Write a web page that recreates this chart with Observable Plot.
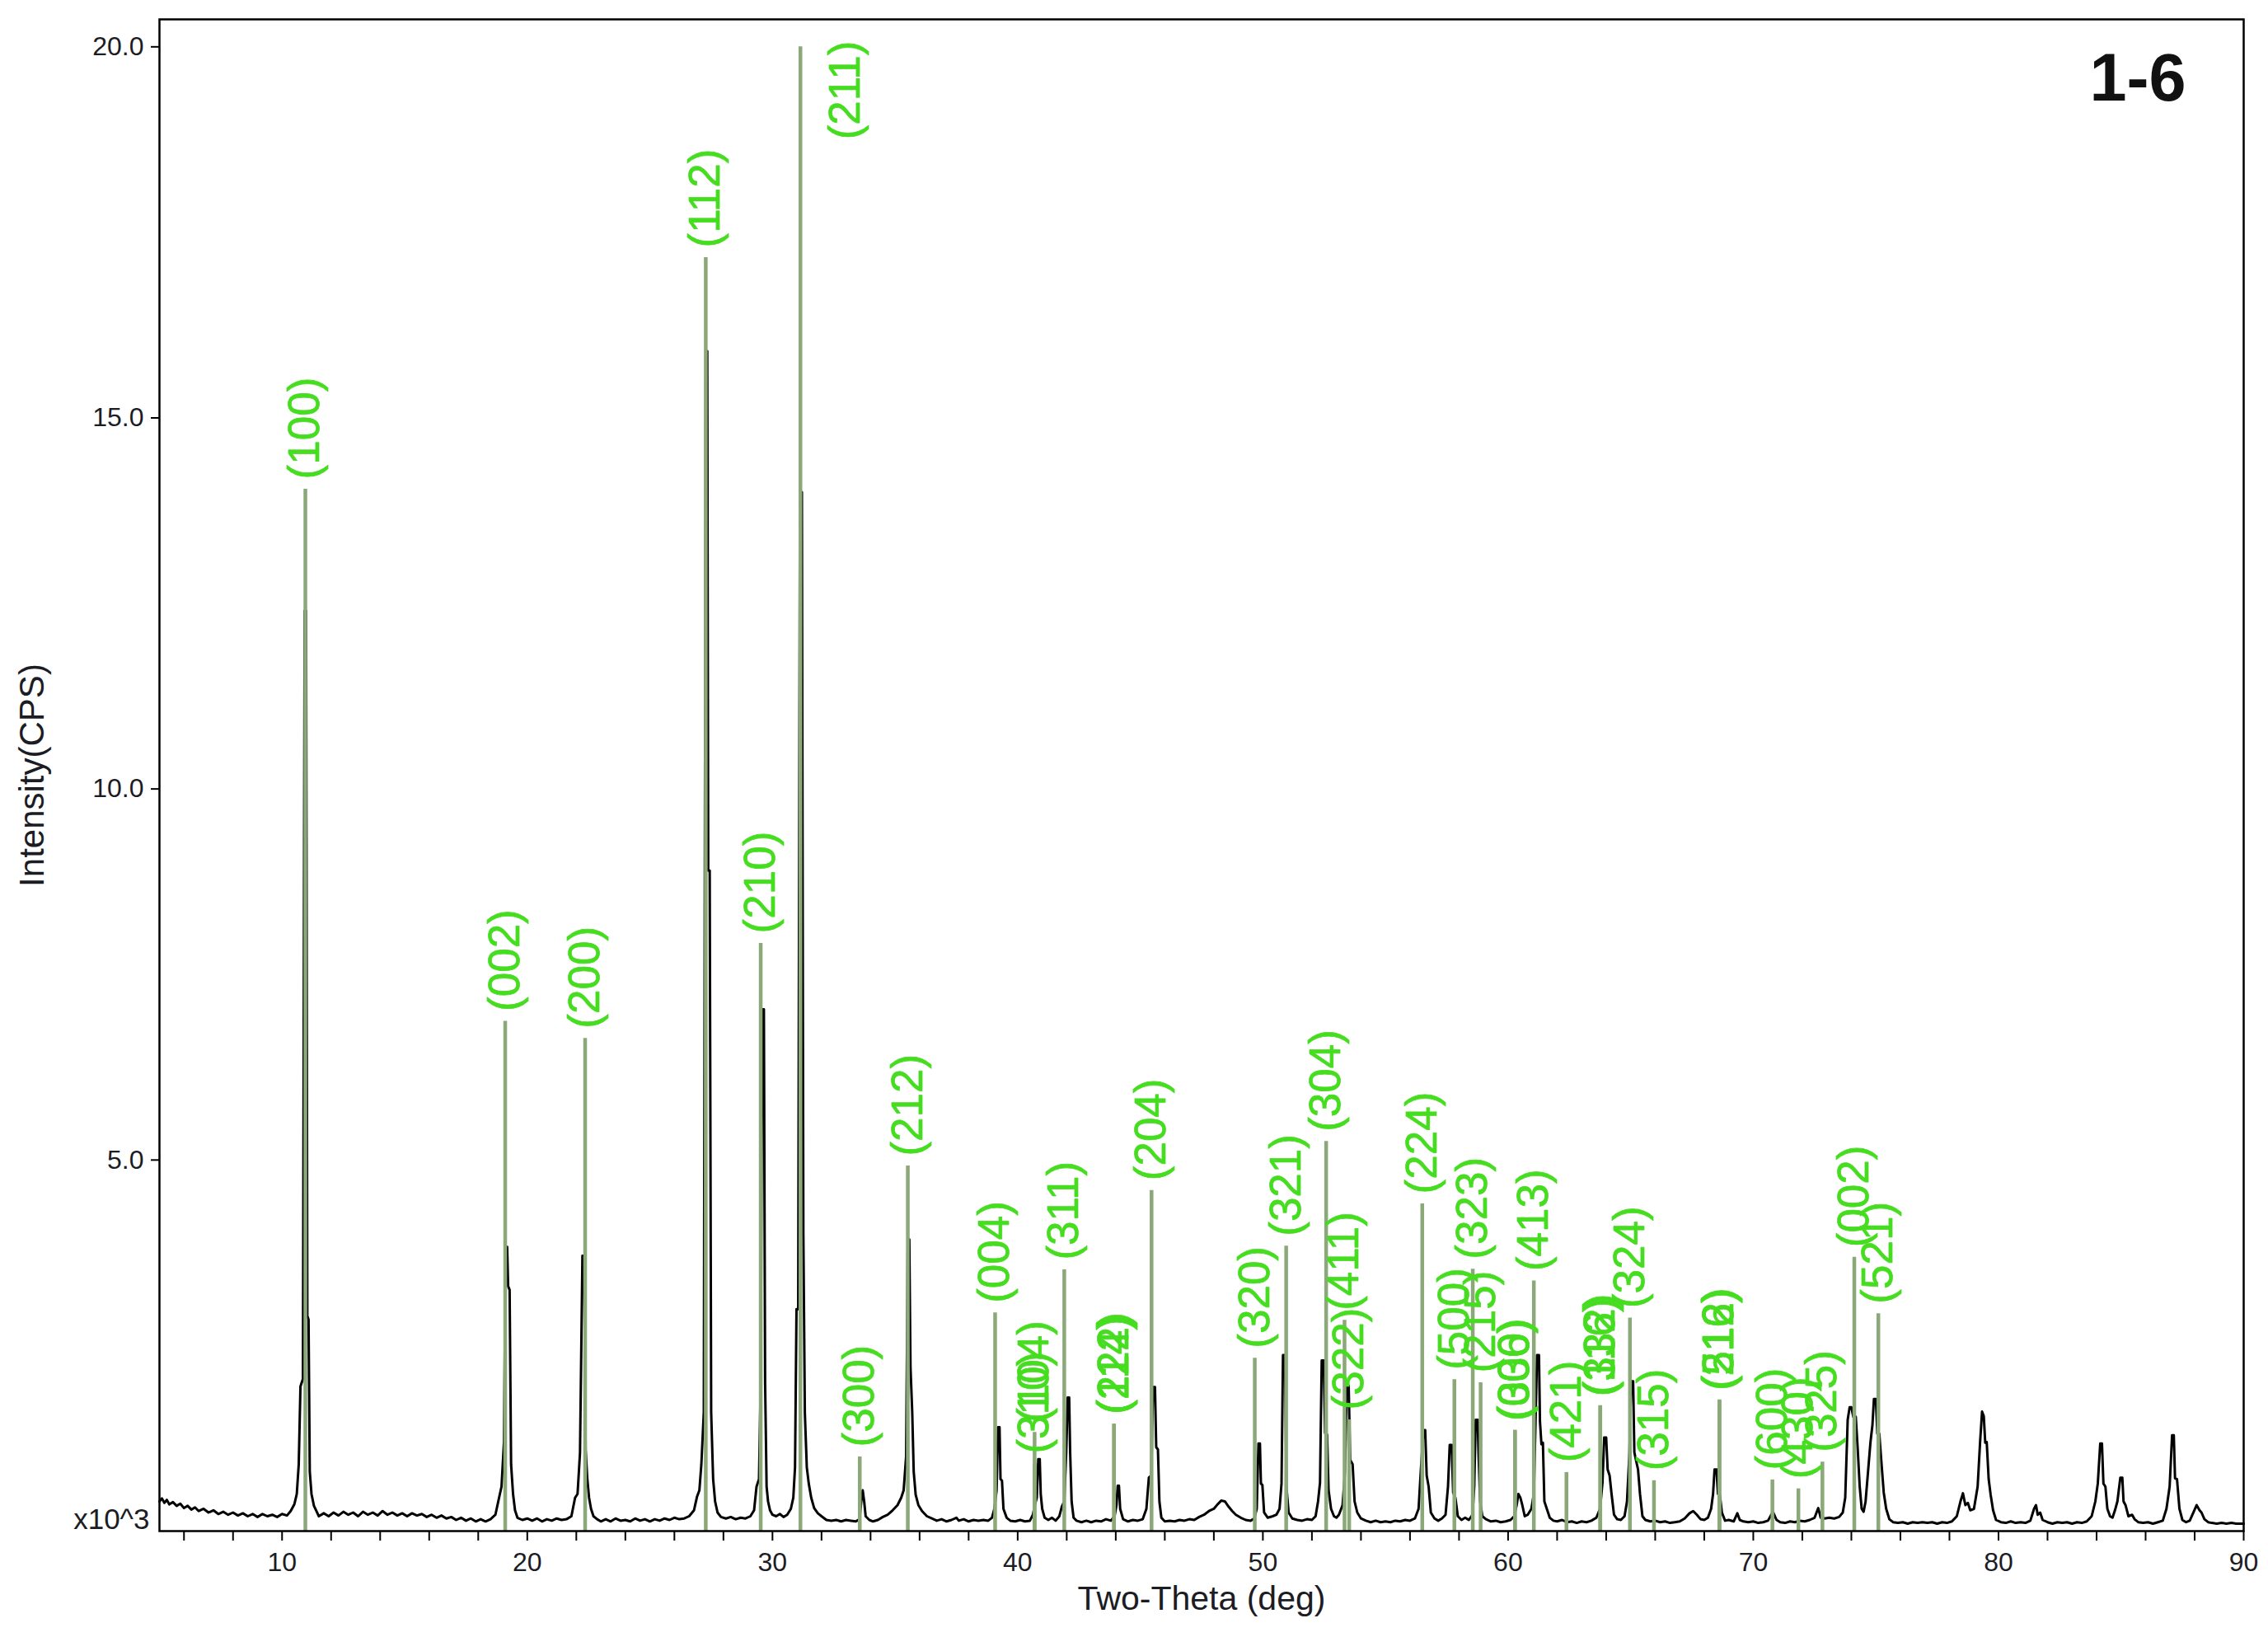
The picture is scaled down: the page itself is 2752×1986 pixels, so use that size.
<!DOCTYPE html>
<html><head><meta charset="utf-8">
<script src="https://cdn.jsdelivr.net/npm/d3@7"></script>
<script src="https://cdn.jsdelivr.net/npm/@observablehq/plot@0.6"></script>
<style>html,body{margin:0;padding:0;background:#fff;} #chart svg{display:block}</style>
</head><body><div id="chart"></div>
<script>
// ---- measured XRD pattern (2θ in degrees, intensity in 10^3 CPS) ----
const twoTheta = [
5.00,5.10,5.20,5.30,5.40,5.55,5.70,5.85,6.00,6.15,6.30,6.45,6.60,6.80,7.00,7.20,7.40,7.60,7.80,8.00,8.20,8.40,8.60,8.80,9.00,9.20,9.40,9.60,9.80,10.00,10.20,10.35,10.50,10.60,10.68,10.75,10.85,10.92,10.98,11.03,11.08,11.13,11.20,11.30,11.40,11.50,
11.70,11.90,12.10,12.30,12.50,12.70,12.90,13.10,13.30,13.50,13.70,13.90,14.10,14.30,14.50,14.70,14.90,15.10,15.30,15.50,15.70,15.90,16.10,16.30,16.50,16.70,16.90,17.10,17.30,17.50,17.70,17.90,18.10,18.30,18.50,18.70,18.85,18.95,19.05,19.12,19.18,19.22,19.28,19.34,19.42,19.50,19.60,19.80,
20.00,20.20,20.40,20.60,20.80,21.00,21.20,21.40,21.60,21.80,21.95,22.05,22.15,22.25,22.32,22.38,22.45,22.52,22.60,22.70,22.85,23.00,23.20,23.40,23.60,23.80,24.00,24.20,24.40,24.60,24.80,25.00,25.20,25.40,25.60,25.80,26.00,26.20,26.40,26.60,26.80,26.92,27.02,27.10,27.20,27.28,27.34,27.38,27.44,27.50,27.58,27.66,27.76,27.90,
28.10,28.30,28.50,28.70,28.90,29.10,29.25,29.35,29.45,29.52,29.58,29.65,29.70,29.76,29.82,29.90,30.00,30.15,30.30,30.45,30.60,30.75,30.85,30.92,30.98,31.05,31.12,31.20,31.26,31.32,31.40,31.48,31.58,31.70,31.85,32.00,32.20,32.40,32.60,32.80,33.00,33.20,33.40,33.55,33.62,33.68,33.74,33.80,33.95,
34.10,34.30,34.50,34.70,34.90,35.10,35.25,35.35,35.45,35.52,35.58,35.63,35.70,35.76,35.84,35.95,36.10,36.30,36.50,36.70,36.90,37.10,37.30,37.50,37.60,37.80,38.00,38.20,38.40,38.60,38.80,38.95,39.05,39.14,39.20,39.26,39.30,39.36,39.42,39.55,39.70,39.90,
40.10,40.30,40.50,40.62,40.70,40.78,40.84,40.90,40.94,41.00,41.10,41.25,41.40,41.55,41.70,41.80,41.90,41.98,42.04,42.10,42.14,42.20,42.28,42.40,42.60,42.80,43.00,43.20,43.40,43.60,43.80,43.95,44.03,44.08,44.13,44.18,44.30,44.50,44.70,44.90,45.10,45.25,45.35,45.45,45.52,45.60,45.65,45.72,45.78,45.86,
46.00,46.20,46.40,46.60,46.80,47.00,47.20,47.40,47.60,47.80,48.00,48.15,48.30,48.45,48.60,48.75,48.90,49.10,49.30,49.50,49.65,49.75,49.82,49.88,49.92,49.98,50.05,50.20,50.40,50.55,50.68,50.76,50.82,50.90,50.96,51.05,51.20,51.40,51.60,51.80,
52.00,52.15,52.25,52.33,52.40,52.48,52.54,52.62,52.68,52.78,52.90,53.00,53.10,53.25,53.35,53.42,53.50,53.56,53.66,53.74,53.85,54.00,54.20,54.40,54.60,54.80,55.00,55.20,55.40,55.60,55.80,56.00,56.20,56.35,56.45,56.55,56.62,56.68,56.76,56.85,57.00,57.15,57.30,57.45,57.55,57.62,57.70,57.76,57.85,57.95,
58.10,58.25,58.40,58.55,58.62,58.68,58.76,58.80,58.86,58.95,59.10,59.30,59.50,59.70,59.90,60.10,60.25,60.35,60.42,60.50,60.58,60.68,60.80,60.95,61.05,61.12,61.18,61.26,61.30,61.36,61.42,61.48,61.58,61.70,61.85,
62.00,62.20,62.40,62.60,62.80,63.00,63.20,63.40,63.60,63.75,63.85,63.92,64.00,64.06,64.14,64.22,64.32,64.45,64.60,64.75,64.85,64.95,65.02,65.10,65.15,65.22,65.30,65.38,65.48,65.60,65.80,
66.00,66.20,66.40,66.60,66.80,67.00,67.20,67.40,67.55,67.70,67.85,68.00,68.15,68.28,68.36,68.42,68.50,68.56,68.64,68.72,68.85,69.00,69.20,69.35,69.45,69.60,69.80,
70.00,70.20,70.40,70.60,70.80,70.95,71.10,71.30,71.50,71.70,71.90,72.10,72.30,72.50,72.65,72.75,72.90,73.10,73.30,73.50,73.65,73.75,73.85,73.93,74.00,74.08,74.18,74.26,74.34,74.42,74.50,74.58,74.68,74.78,74.86,74.92,75.00,75.06,75.14,75.22,75.32,75.42,75.55,75.70,75.90,
76.10,76.30,76.50,76.70,76.90,77.10,77.30,77.50,77.70,77.90,78.10,78.30,78.45,78.55,78.65,78.75,78.85,79.00,79.15,79.25,79.33,79.40,79.46,79.52,79.60,79.68,79.78,79.90,
80.10,80.30,80.50,80.70,80.90,81.10,81.30,81.45,81.53,81.60,81.70,81.80,82.00,82.20,82.40,82.60,82.80,83.00,83.20,83.40,83.60,83.80,83.95,84.05,84.15,84.22,84.28,84.36,84.44,84.55,84.65,84.75,84.85,84.97,85.05,85.10,85.18,85.30,85.45,85.55,85.70,85.90,
86.10,86.30,86.50,86.70,86.85,86.98,87.08,87.15,87.20,87.28,87.38,87.50,87.65,87.80,87.95,88.08,88.20,88.28,88.40,88.55,88.70,88.90,89.10,89.30,89.50,89.70,90.00
];
const counts = [
0.40,0.44,0.38,0.42,0.36,0.39,0.34,0.37,0.31,0.34,0.29,0.32,0.27,0.30,0.25,0.28,0.23,0.26,0.22,0.25,0.21,0.24,0.20,0.23,0.19,0.23,0.20,0.22,0.19,0.23,0.21,0.27,0.36,0.50,0.90,1.95,2.05,12.40,12.40,2.90,2.85,0.80,0.50,0.34,0.27,0.20,
0.24,0.20,0.25,0.21,0.26,0.22,0.25,0.20,0.26,0.22,0.25,0.21,0.27,0.22,0.25,0.21,0.24,0.20,0.24,0.21,0.23,0.19,0.22,0.18,0.21,0.17,0.19,0.15,0.18,0.14,0.17,0.13,0.16,0.13,0.16,0.22,0.45,0.60,1.20,3.83,3.83,3.30,3.25,0.90,0.50,0.28,0.18,0.15,
0.17,0.14,0.17,0.13,0.16,0.14,0.17,0.15,0.16,0.20,0.45,0.50,1.05,3.71,3.71,1.10,0.70,0.45,0.30,0.20,0.16,0.13,0.16,0.13,0.17,0.14,0.15,0.13,0.17,0.14,0.16,0.13,0.16,0.14,0.17,0.15,0.18,0.16,0.17,0.20,0.28,0.46,0.55,0.90,1.60,15.90,15.90,8.90,8.90,1.60,0.70,0.40,0.25,0.19,
0.17,0.19,0.16,0.18,0.17,0.20,0.28,0.60,0.70,2.00,7.03,7.03,2.00,0.60,0.40,0.28,0.22,0.20,0.23,0.19,0.22,0.30,0.45,0.86,2.99,2.99,14.00,14.00,4.00,1.60,0.86,0.64,0.45,0.31,0.24,0.20,0.15,0.14,0.15,0.13,0.15,0.14,0.13,0.16,0.40,0.55,0.40,0.20,0.15,
0.13,0.15,0.19,0.22,0.28,0.35,0.45,0.55,1.00,3.93,3.93,2.20,1.60,0.80,0.49,0.35,0.27,0.20,0.17,0.14,0.16,0.13,0.15,0.18,0.14,0.16,0.13,0.15,0.14,0.15,0.14,0.18,0.30,0.55,1.40,1.40,0.70,0.68,0.30,0.18,0.14,0.13,
0.15,0.13,0.14,0.22,0.35,0.45,0.97,0.97,0.50,0.30,0.18,0.15,0.18,0.14,0.20,0.33,0.40,1.06,1.80,1.80,1.06,0.40,0.18,0.14,0.12,0.14,0.12,0.14,0.13,0.16,0.14,0.20,0.35,0.61,0.61,0.30,0.16,0.13,0.15,0.14,0.16,0.30,0.72,0.75,1.94,1.94,1.13,1.10,0.40,0.18,
0.13,0.14,0.13,0.15,0.14,0.16,0.15,0.19,0.22,0.27,0.30,0.36,0.41,0.40,0.33,0.27,0.22,0.18,0.15,0.14,0.17,0.30,1.18,1.18,0.64,0.62,0.25,0.18,0.20,0.22,0.30,0.64,2.37,2.37,0.60,0.25,0.17,0.15,0.14,0.16,
0.15,0.20,0.40,0.65,2.30,2.30,1.32,1.30,0.55,0.30,0.20,0.18,0.22,0.35,0.80,1.96,1.96,0.96,0.90,0.40,0.25,0.17,0.14,0.12,0.14,0.12,0.13,0.12,0.14,0.13,0.15,0.14,0.17,0.30,0.86,1.36,1.36,0.75,0.60,0.25,0.17,0.14,0.17,0.22,0.60,1.16,1.16,0.52,0.45,0.20,
0.15,0.18,0.15,0.22,0.60,1.50,1.50,1.00,0.40,0.20,0.16,0.13,0.14,0.12,0.13,0.15,0.20,0.35,0.50,0.45,0.35,0.20,0.22,0.30,0.50,1.48,2.37,2.37,1.48,1.17,1.19,0.40,0.30,0.18,0.14,
0.13,0.15,0.12,0.13,0.11,0.13,0.12,0.14,0.18,0.30,0.65,1.26,1.26,0.83,0.75,0.50,0.22,0.16,0.15,0.20,0.40,1.06,2.02,2.02,1.06,0.95,0.83,0.50,0.20,0.15,0.13,
0.14,0.12,0.13,0.11,0.12,0.13,0.17,0.24,0.27,0.22,0.16,0.15,0.18,0.30,0.50,0.83,0.83,0.50,0.48,0.25,0.14,0.15,0.13,0.24,0.15,0.13,0.12,
0.13,0.11,0.12,0.14,0.26,0.15,0.12,0.11,0.13,0.12,0.14,0.13,0.15,0.18,0.31,0.18,0.17,0.18,0.17,0.19,0.25,0.45,1.50,1.67,1.67,1.54,1.54,1.10,0.60,0.30,0.26,0.40,0.80,1.20,1.43,1.78,1.78,1.31,1.31,0.95,0.52,0.30,0.16,0.12,0.11,
0.12,0.10,0.12,0.11,0.12,0.11,0.12,0.10,0.12,0.11,0.13,0.20,0.40,0.51,0.35,0.38,0.28,0.30,0.60,1.20,1.61,1.55,1.19,1.20,0.70,0.49,0.28,0.15,
0.12,0.11,0.13,0.11,0.12,0.11,0.14,0.30,0.35,0.22,0.25,0.15,0.12,0.10,0.12,0.11,0.12,0.10,0.12,0.11,0.13,0.20,0.40,0.64,1.18,1.18,0.64,0.60,0.30,0.20,0.18,0.28,0.40,0.72,0.72,0.40,0.35,0.20,0.22,0.16,0.12,0.11,
0.12,0.10,0.12,0.14,0.30,0.60,1.29,1.29,0.71,0.70,0.30,0.15,0.12,0.14,0.25,0.35,0.28,0.25,0.16,0.12,0.11,0.10,0.11,0.10,0.11,0.10,0.10
];

// ---- reference stick pattern (Miller indices, 2θ, relative intensity in 10^3 CPS) ----
const hkl      = ["(100)","(002)","(200)","(112)","(210)","(211)","(300)","(212)","(004)","(104)","(310)","(311)","(222)","(114)","(204)","(320)","(321)","(304)","(411)","(322)","(224)","(500)","(323)","(215)","(330)","(006)","(413)","(421)","(332)","(116)","(324)","(315)","(512)","(216)","(600)","(430)","(325)","(002)","(521)"];
const stickPos = [10.95,19.10,22.36,27.28,29.52,31.14,33.56,35.52,39.08,40.69,40.69,41.90,43.93,43.93,45.46,49.67,50.95,52.58,53.33,53.52,56.50,57.81,58.56,58.88,60.28,60.28,61.05,62.38,63.76,63.76,64.97,65.95,68.62,68.62,70.78,71.84,72.82,74.12,75.10];
const stickInt = [14.04,6.87,6.64,17.16,7.92,20.00,1.00,4.92,2.94,1.33,0.91,3.52,1.44,1.44,4.59,2.33,3.84,5.25,2.84,1.50,4.41,2.04,3.53,2.00,1.36,1.35,3.37,0.79,1.69,1.68,2.87,0.68,1.77,1.76,0.69,0.57,0.93,3.69,2.93];

// ---- axes ----
const xDomain = [5, 90];
const yDomain = [0, 20.37];
const xMajorTicks = [10,20,30,40,50,60,70,80,90];
const xMinorTicks = [6,8,12,14,16,18,22,24,26,28,32,34,36,38,42,44,46,48,52,54,56,58,62,64,66,68,72,74,76,78,82,84,86,88];
const yTicks = [5,10,15,20];
const yTickLabels = ["5.0","10.0","15.0","20.0"];
const titleText = "1-6";
const xLabel = "Two-Theta (deg)";
const yLabel = "Intensity(CPS)";
const yUnit = "x10^3";

const pattern = twoTheta.map((t, i) => ({t, c: counts[i]}));
const sticks = hkl.map((h, i) => ({h, pos: stickPos[i], int: stickInt[i]}));
const fitsAbove = d => d.int < yDomain[1] - 1.6;

const stickGreen = "#8ba878";
const labelGreen = "#46dc20";
const font = "'Liberation Sans', Arial, Helvetica, sans-serif";
const inkColor = "#1c1c24";
const labelStyle = {text: "h", rotate: -90, fill: labelGreen, stroke: labelGreen, strokeWidth: 0.7, fontSize: 53, fontFamily: font, lineAnchor: "middle"};

const chart = Plot.plot({
  width: 2752,
  height: 1986,
  marginTop: 23,
  marginRight: 30,
  marginBottom: 129,
  marginLeft: 193,
  style: {background: "#fff", fontFamily: font, color: inkColor},
  x: {domain: xDomain},
  y: {domain: yDomain},
  marks: [
    Plot.line(pattern, {x: "t", y: "c", stroke: "#000", strokeWidth: 3, curve: "linear"}),
    Plot.ruleX(sticks, {x: "pos", y1: 0, y2: "int", stroke: stickGreen, strokeWidth: 4.5}),
    Plot.text(sticks.filter(fitsAbove), {...labelStyle, x: "pos", y: "int", textAnchor: "start", dy: -12}),
    Plot.text(sticks.filter(d => !fitsAbove(d)), {...labelStyle, x: "pos", frameAnchor: "top", textAnchor: "end", dx: 55, dy: 26}),
    Plot.frame({stroke: "#000", strokeWidth: 2.5}),
    Plot.axisX({ticks: xMinorTicks, tickFormat: () => "", tickSize: 12, stroke: "#000", strokeWidth: 2, label: null}),
    Plot.axisX({ticks: xMajorTicks, tickSize: 12, tickPadding: 14, fontSize: 32, stroke: "#000", strokeWidth: 2, fill: inkColor, label: null}),
    Plot.axisY({ticks: yTicks, tickFormat: (d, i) => yTickLabels[i], tickSize: 10, tickPadding: 9, fontSize: 32, stroke: "#000", strokeWidth: 2, fill: inkColor, label: null}),
    Plot.text([yUnit], {text: d => d, frameAnchor: "bottom-left", textAnchor: "end", lineAnchor: "middle", dx: -12, dy: -14, fontSize: 35, fill: inkColor, fontFamily: font}),
    Plot.text([xLabel], {text: d => d, frameAnchor: "bottom", textAnchor: "middle", lineAnchor: "middle", dy: 82, fontSize: 41, fill: inkColor, fontFamily: font}),
    Plot.text([yLabel], {text: d => d, frameAnchor: "left", textAnchor: "middle", lineAnchor: "middle", rotate: -90, dx: -154, fontSize: 42, fill: inkColor, fontFamily: font}),
    Plot.text([titleText], {text: d => d, frameAnchor: "top-right", textAnchor: "end", lineAnchor: "top", dx: -70, dy: 41, fontSize: 81, fontWeight: "bold", fill: "#111", fontFamily: font})
  ]
});
document.getElementById("chart").append(chart);
</script>
</body></html>
